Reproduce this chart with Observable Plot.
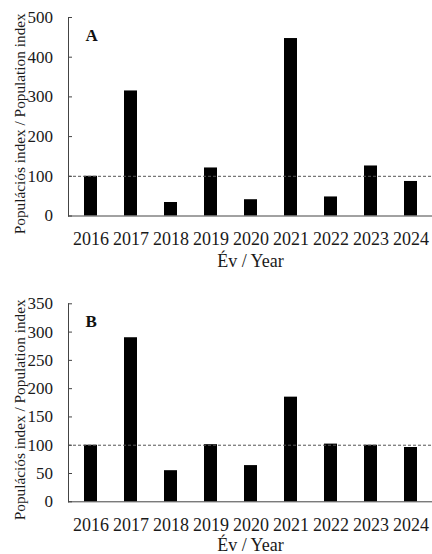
<!DOCTYPE html>
<html><head><meta charset="utf-8">
<script src="https://cdn.jsdelivr.net/npm/d3@7"></script>
<script src="https://cdn.jsdelivr.net/npm/@observablehq/plot@0.6"></script>
<style>body{margin:0;background:#fff} #chart svg{display:block}</style>
</head><body><div id="chart"></div>
<script>
const years = ["2016","2017","2018","2019","2020","2021","2022","2023","2024"];
const valuesA = [100, 315, 34, 121, 41, 447, 48, 126, 87];
const valuesB = [100, 290, 55, 101, 64, 185, 102, 100, 96];
const ticksA = [0, 100, 200, 300, 400, 500];
const ticksB = [0, 50, 100, 150, 200, 250, 300, 350];
const referenceLevel = 100;
const panelLabels = ["A", "B"];
const xLabel = "Év / Year";
const yLabel = "Populációs index / Population index";

const W = 432, ML = 68;
function panel(values, ticks, letter, mt, mb, midOff, xdy) {
  const data = years.map((y, i) => ({year: y, value: values[i]}));
  const H = 277;
  return Plot.plot({
    width: W, height: H,
    marginLeft: ML, marginRight: 0, marginTop: mt, marginBottom: mb,
    style: {fontFamily: "'Liberation Serif', 'Times New Roman', serif", fontSize: "16px", color: "#1a1a1a", background: "#fff", overflow: "visible"},
    x: {type: "band", domain: years, paddingInner: 0.676, paddingOuter: 0.366, label: null},
    y: {domain: [0, ticks[ticks.length - 1]], label: null},
    marks: [
      Plot.barY(data, {x: "year", y: "value", fill: "#000"}),
      Plot.ruleY([referenceLevel], {stroke: "#555", strokeDasharray: "3,2"}),
      Plot.ruleY(ticks, {stroke: "#444", insetRight: W - ML - 4}),
      Plot.ruleY([0], {stroke: "#444"}),
      Plot.frame({anchor: "left", stroke: "#444"}),
      Plot.axisY({ticks, tickSize: 0, tickPadding: 15.5, label: null, fontSize: 17}),
      Plot.axisX({tickSize: 0, tickPadding: 16, label: null, fontSize: 18}),
      Plot.text([xLabel], {frameAnchor: "bottom", dy: xdy, lineAnchor: "bottom", textAnchor: "middle", fontSize: 18}),
      Plot.text([yLabel], {frameAnchor: "left", rotate: -90, dx: -44, dy: midOff, lineAnchor: "bottom", textAnchor: "middle", fontSize: 15.3}),
      Plot.text([letter], {frameAnchor: "top-left", dx: 17, dy: 23.3, textAnchor: "start", lineAnchor: "bottom", fontSize: 17, fontWeight: "bold", fill: "#111"})
    ]
  });
}
const el = document.getElementById("chart");
el.append(panel(valuesA, ticksA, panelLabels[0], 17, 61.5, 7, 51));
el.append(panel(valuesB, ticksB, panelLabels[1], 26.3, 52.7, 7, 49.5));
</script>
</body></html>
